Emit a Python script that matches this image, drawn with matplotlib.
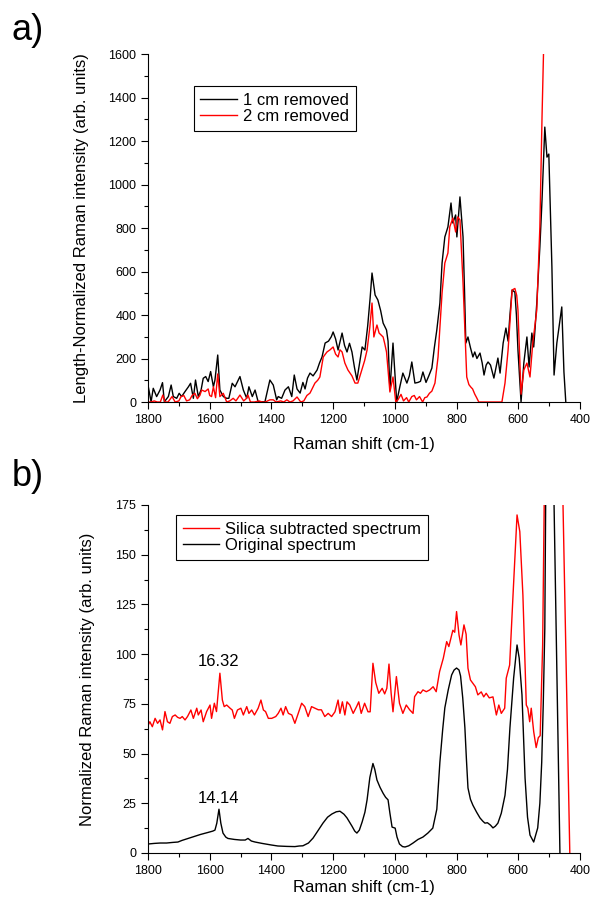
import matplotlib
matplotlib.use("Agg")
import matplotlib.pyplot as plt
from matplotlib.ticker import MultipleLocator

plt.rcParams["font.family"] = ["Liberation Sans", "DejaVu Sans"]

# --- Data: panel a) ---
shift_1cm = [1799, 1790, 1783, 1772, 1761, 1753, 1747, 1734, 1725, 1718, 1707, 1699, 1691, 1680,
             1669, 1662, 1653, 1646, 1637, 1628, 1621, 1613, 1605, 1597, 1588, 1583, 1574, 1567,
             1556, 1545, 1538, 1527, 1518, 1502, 1491, 1480, 1473, 1462, 1453, 1443, 1432, 1421,
             1405, 1394, 1383, 1378, 1367, 1356, 1345, 1334, 1326, 1317, 1307, 1298, 1291, 1283,
             1275, 1265, 1252, 1244, 1236, 1226, 1215, 1206, 1200, 1192, 1184, 1171, 1163, 1155,
             1147, 1139, 1131, 1123, 1114, 1106, 1097, 1088, 1080, 1074, 1064, 1055, 1046, 1038,
             1027, 1022, 1016, 1006, 994, 984, 974, 961, 953, 945, 935, 925, 917, 909, 899, 890,
             880, 872, 864, 854, 847, 838, 828, 818, 812, 803, 799, 789, 779, 774, 770, 763, 755,
             747, 741, 734, 724, 717, 711, 704, 698, 690, 679, 672, 666, 659, 649, 640, 633, 627,
             620, 611, 606, 601, 591, 582, 572, 565, 556, 550, 545, 540, 530, 523, 514, 507, 501,
             491, 484, 475, 468, 459, 452, 446]
int_1cm = [70, 1, 63, 25, 55, 89, 1, 25, 78, 25, 17, 40, 25, 48,
           70, 86, 17, 101, 25, 55, 109, 117, 94, 140, 70, 101, 216, 55,
           25, 17, 17, 86, 70, 117, 55, 17, 70, 25, 55, 1, 1, 1,
           101, 78, 10, 25, 17, 55, 70, 25, 124, 60, 41, 90, 60, 110,
           133, 120, 147, 180, 207, 271, 280, 300, 322, 290, 239, 317, 260, 230,
           270, 230, 160, 101, 180, 253, 239, 350, 480, 593, 492, 469, 420, 363,
           331, 280, 55, 271, 0, 69, 133, 87, 120, 184, 87, 90, 95, 138, 90, 120,
           156, 250, 331, 455, 639, 759, 805, 915, 823, 860, 759, 943, 759, 500, 271, 299, 250,
           207, 230, 200, 225, 180, 124, 170, 184, 170, 110, 160, 202, 133, 271, 340, 280, 400,
           515, 505, 400, 239, 0, 179, 299, 161, 317, 253, 350, 455, 713, 929, 1264, 1126, 1140,
           621, 124, 271, 345, 437, 138, 0]

shift_2cm = [1800, 1790, 1780, 1770, 1760, 1752, 1745, 1735, 1722, 1712, 1700, 1693, 1684, 1675,
             1665, 1657, 1648, 1640, 1632, 1626, 1615, 1605, 1600, 1594, 1588, 1581, 1574, 1567,
             1556, 1545, 1535, 1524, 1515, 1502, 1490, 1482, 1476, 1468, 1455, 1440, 1430, 1420,
             1405, 1394, 1385, 1370, 1360, 1350, 1340, 1330, 1317, 1305, 1295, 1285, 1275, 1265,
             1259, 1250, 1243, 1232, 1220, 1210, 1200, 1192, 1184, 1178, 1171, 1162, 1152, 1139,
             1129, 1120, 1107, 1098, 1090, 1081, 1074, 1068, 1058, 1051, 1038, 1033, 1027, 1016,
             1006, 997, 990, 980, 972, 962, 955, 945, 937, 930, 920, 910, 903, 896, 888, 880,
             870, 860, 847, 838, 828, 822, 812, 803, 796, 789, 779, 767, 760, 754, 748, 741, 735,
             728, 700, 653, 643, 633, 620, 611, 605, 601, 591, 582, 572, 562, 553, 540, 530, 523,
             515]
int_2cm = [0, 0, 5, 0, 0, 32, 0, 0, 25, 0, 5, 25, 30, 5,
           10, 30, 40, 15, 30, 55, 48, 60, 30, 25, 70, 20, 129, 25,
           40, 0, 5, 17, 5, 32, 5, 15, 32, 0, 0, 5, 0, 0,
           10, 10, 0, 5, 0, 10, 0, 5, 23, 0, 5, 30, 41, 70,
           87, 100, 115, 207, 230, 240, 253, 220, 207, 240, 230, 179, 147, 120,
           87, 87, 147, 190, 239, 345, 455, 299, 354, 317, 299, 270, 230, 46,
           115, 0, 10, 35, 5, 20, 0, 25, 30, 10, 25, 0, 20, 23, 40, 50,
           87, 207, 501, 639, 685, 805, 846, 782, 851, 837, 547, 115, 80, 69, 60, 36, 20,
           0, 0, 0, 87, 239, 515, 522, 490, 423, 36, 147, 179, 115, 271, 423, 805, 1311,
           1800]

# --- Data: panel b) ---
shift_silica = [1799, 1794, 1786, 1777, 1769, 1761, 1753, 1745, 1737, 1729, 1721, 1712, 1704, 1696,
                1689, 1680, 1672, 1661, 1653, 1642, 1637, 1628, 1621, 1610, 1599, 1594, 1585, 1578,
                1567, 1559, 1553, 1545, 1534, 1527, 1520, 1510, 1499, 1491, 1480, 1473, 1464, 1455,
                1443, 1434, 1426, 1419, 1410, 1399, 1386, 1378, 1369, 1362, 1354, 1345, 1334, 1324,
                1313, 1302, 1292, 1281, 1270, 1259, 1248, 1238, 1227, 1216, 1205, 1194, 1184, 1178,
                1170, 1162, 1155, 1146, 1135, 1124, 1117, 1109, 1098, 1087, 1080, 1071, 1062, 1052,
                1041, 1033, 1026, 1019, 1012, 1006, 995, 985, 974, 963, 952, 941, 936, 925, 917,
                909, 898, 887, 876, 866, 855, 843, 832, 825, 812, 806, 800, 792, 786, 776, 769,
                763, 755, 747, 739, 731, 720, 712, 704, 694, 682, 671, 663, 655, 644, 639, 628,
                617, 604, 595, 585, 574, 569, 563, 558, 550, 542, 535, 529, 521, 516, 500, 487,
                470, 455, 433]
int_silica = [64.4, 66.0, 63.5, 67.7, 65.2, 66.9, 61.9, 71.1, 66.0, 65.2, 68.6, 69.4, 68.2, 67.7,
              68.6, 66.9, 68.6, 71.9, 67.7, 72.8, 69.4, 71.9, 66.0, 71.1, 74.4, 67.7, 75.3, 71.1,
              90.4, 76.9, 73.6, 74.4, 72.8, 71.9, 67.7, 71.9, 72.8, 69.4, 73.6, 70.2, 71.9, 69.4,
              72.8, 76.9, 71.9, 71.1, 67.7, 67.7, 68.6, 70.2, 72.8, 69.4, 73.6, 70.2, 69.4, 65.2,
              70.2, 75.3, 73.6, 68.6, 73.6, 72.8, 72.0, 72.0, 68.6, 70.2, 68.6, 71.0, 76.9, 70.2,
              76.0, 69.4, 76.0, 74.4, 70.2, 73.6, 76.0, 70.2, 75.3, 71.0, 71.0, 95.4, 85.7, 80.3,
              82.8, 80.0, 82.8, 95.0, 80.3, 71.0, 88.7, 75.3, 70.2, 74.4, 72.0, 70.2, 78.6, 81.1, 80.3,
              82.0, 81.1, 82.0, 83.6, 81.1, 91.2, 97.9, 106.3, 103.8, 112.0, 111.0, 121.4, 109.6,
              104.6, 114.7, 110.0,
              92.9, 87.0, 85.3, 83.6, 79.5, 81.0, 78.5, 80.3, 78.0, 78.5, 69.4, 74.4, 70.2, 72.8,
              87.9, 94.5,
              129.7, 170.0, 161.6, 129.7, 74.4, 72.8, 66.0, 72.8, 61.0, 53.0, 58.0, 59.0, 104.6,
              175.0, 330.0, 420.0,
              300.0, 175.0, 0.0]

shift_orig = [1800, 1780, 1760, 1740, 1720, 1703, 1690, 1670, 1650, 1630, 1606, 1590, 1583, 1577,
              1570, 1564, 1557, 1548, 1541, 1520, 1500, 1485, 1476, 1465, 1453, 1430, 1400, 1379,
              1350, 1324, 1310, 1298, 1280, 1265, 1250, 1233, 1218, 1204, 1190, 1178, 1165, 1155,
              1139, 1130, 1123, 1115, 1106, 1097, 1090, 1081, 1071, 1065, 1058, 1048, 1038, 1030,
              1022, 1016, 1009, 999, 993, 985, 975, 967, 955, 941, 925, 909, 893, 877, 870, 864,
              854, 845, 838, 827, 816, 808, 800, 792, 787, 780, 773, 768, 763, 755, 747, 735, 724,
              715, 708, 700, 690, 682, 674, 666, 655, 643, 635, 627, 615, 604, 597, 588, 578, 570,
              562, 550, 537, 530, 524, 519, 514, 497, 484, 465]
int_orig = [4.5, 4.8, 5.0, 5.0, 5.3, 5.5, 6.3, 7.3, 8.3, 9.3, 10.3, 11.0, 11.5, 15.0,
            22.0, 15.0, 10.0, 8.0, 7.3, 6.8, 6.5, 6.5, 7.3, 6.0, 5.5, 4.8, 4.0, 3.5,
            3.3, 3.2, 3.5, 3.6, 5.0, 7.5, 11.0, 15.0, 18.0, 19.6, 20.7, 21.0, 19.5, 17.6,
            13.5, 11.0, 10.0, 11.5, 15.6, 20.5, 26.7, 38.0, 45.0, 42.0, 36.7, 33.0, 30.0, 28.0,
            26.7, 20.0, 13.0, 12.5, 8.0, 4.5, 3.2, 3.0, 3.6, 5.0, 6.8, 8.0, 10.0, 12.5, 17.6, 22.0,
            45.7, 62.0, 73.0, 82.0, 89.5, 92.0, 93.0, 92.0, 89.0, 78.0, 63.0, 47.0, 32.7, 27.0, 24.0,
            20.5, 17.6,
            16.0, 15.0, 15.2, 14.0, 12.6, 13.5, 15.0, 20.0, 29.0, 42.0, 63.0, 88.0, 104.6, 98.0,
            79.5, 37.7, 18.0,
            9.0, 5.5, 12.6, 25.0, 45.7, 75.0, 113.0, 500.0, 175.0, 0.0]

# --- Plot ---
fig = plt.figure(figsize=(5.92, 9.05), dpi=100)
ax1 = fig.add_axes([0.25, 0.5558, 0.7297, 0.3845])
ax2 = fig.add_axes([0.25, 0.0575, 0.7297, 0.3845])

ax1.plot(shift_1cm, int_1cm, color="black", lw=1.0, label="1 cm removed")
ax1.plot(shift_2cm, int_2cm, color="red", lw=1.0, label="2 cm removed")
ax1.set_ylim(0, 1600)
ax1.yaxis.set_major_locator(MultipleLocator(200))
ax1.yaxis.set_minor_locator(MultipleLocator(100))
ax1.set_ylabel("Length-Normalized Raman intensity (arb. units)", fontsize=12)
ax1.yaxis.set_label_coords(-0.136, 0.5)

ax2.plot(shift_silica, int_silica, color="red", lw=1.0, label="Silica subtracted spectrum")
ax2.plot(shift_orig, int_orig, color="black", lw=1.0, label="Original spectrum")
ax2.set_ylim(0, 175)
ax2.yaxis.set_major_locator(MultipleLocator(25))
ax2.yaxis.set_minor_locator(MultipleLocator(12.5))
ax2.set_ylabel("Normalized Raman intensity (arb. units)", fontsize=12)
ax2.yaxis.set_label_coords(-0.123, 0.5)
ax2.text(1570, 96.5, "16.32", ha="center", va="center", fontsize=12)
ax2.text(1570, 27.6, "14.14", ha="center", va="center", fontsize=12)

for ax, leg_xy, lab_y in [(ax1, (0.106, 0.908), -0.10), (ax2, (0.065, 0.971), -0.078)]:
    ax.set_xlim(1800, 400)
    ax.xaxis.set_major_locator(MultipleLocator(200))
    ax.xaxis.set_minor_locator(MultipleLocator(100))
    ax.set_xlabel("Raman shift (cm-1)", fontsize=12)
    ax.xaxis.set_label_coords(0.5, lab_y)
    ax.spines["top"].set_visible(False)
    ax.spines["right"].set_visible(False)
    ax.tick_params(which="major", direction="out", length=5, width=0.8, labelsize=9)
    ax.tick_params(which="minor", direction="out", length=3, width=0.8)
    leg = ax.legend(loc="upper left", bbox_to_anchor=leg_xy, borderaxespad=0, fontsize=12,
                    fancybox=False, framealpha=1, edgecolor="black", handlelength=2.2,
                    handletextpad=0.35, labelspacing=0.08, borderpad=0.4)
    leg.get_frame().set_linewidth(0.8)

fig.text(0.02, 1 - 31 / 905, "a)", fontsize=26, va="center", ha="left")
fig.text(0.02, 1 - 476 / 905, "b)", fontsize=26, va="center", ha="left")

fig.savefig("out.png", dpi=100)
plt.close(fig)
